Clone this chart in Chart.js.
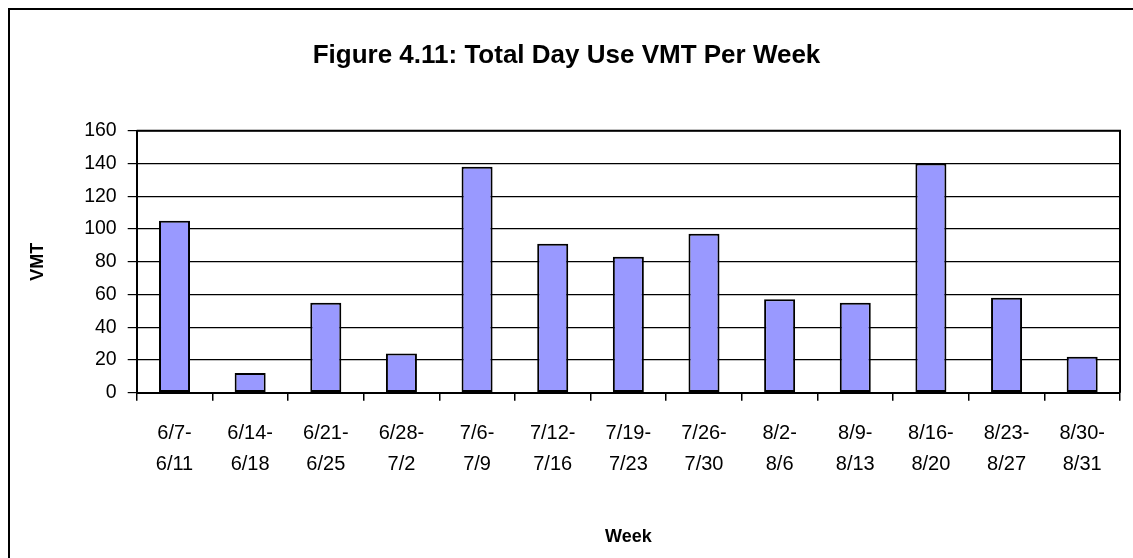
<!DOCTYPE html>
<html>
<head>
<meta charset="utf-8">
<script src="https://cdn.jsdelivr.net/npm/chart.js@4.4.0/dist/chart.umd.min.js"></script>
<style>
    html, body { margin: 0; padding: 0; background: #fff; }
    #wrap { position: relative; width: 1133px; height: 558px; overflow: hidden; }
</style>
</head>
<body>
<div id="wrap"><canvas id="vmtChart" width="1133" height="558"></canvas></div>
<script>
// Week ranges (two lines per label)
const weeks = [
    ['6/7-', '6/11'], ['6/14-', '6/18'], ['6/21-', '6/25'], ['6/28-', '7/2'],
    ['7/6-', '7/9'], ['7/12-', '7/16'], ['7/19-', '7/23'], ['7/26-', '7/30'],
    ['8/2-', '8/6'], ['8/9-', '8/13'], ['8/16-', '8/20'], ['8/23-', '8/27'],
    ['8/30-', '8/31']
];
const vmtValues = [105, 12, 55, 24, 138, 91, 83, 97, 57, 55, 140, 58, 22];
const yTicks = [0, 20, 40, 60, 80, 100, 120, 140, 160];

const FONT = 'Arial, "Liberation Sans", sans-serif';

// outer frame of the figure + box around the plot area
const framePlugin = {
    id: 'frame',
    beforeDraw(chart) {
        const ctx = chart.ctx;
        ctx.save();
        ctx.fillStyle = '#fff';
        ctx.fillRect(0, 0, chart.width, chart.height);
        ctx.strokeStyle = '#000';
        ctx.lineWidth = 2;
        ctx.strokeRect(9, 9, 1200, 700);
        ctx.restore();
    },
    afterDatasetsDraw(chart) {
        const a = chart.chartArea;
        const ctx = chart.ctx;
        ctx.save();
        ctx.strokeStyle = '#000';
        ctx.lineWidth = 2;
        ctx.beginPath();
        ctx.moveTo(a.left, a.top);
        ctx.lineTo(a.right, a.top);
        ctx.lineTo(a.right, a.bottom);
        ctx.stroke();
        ctx.restore();
    }
};

const ctx = document.getElementById('vmtChart').getContext('2d');
new Chart(ctx, {
    type: 'bar',
    data: {
        labels: weeks,
        datasets: [{
            label: 'VMT',
            data: vmtValues,
            backgroundColor: '#9999ff',
            borderColor: '#000',
            borderWidth: 2,
            borderSkipped: false,
            barPercentage: 0.41,
            categoryPercentage: 1
        }]
    },
    options: {
        responsive: false,
        animation: false,
        devicePixelRatio: 1,
        layout: { padding: { left: 13, right: 13, top: 0, bottom: 0 } },
        plugins: {
            legend: { display: false },
            tooltip: { enabled: false },
            title: {
                display: true,
                text: 'Figure 4.11: Total Day Use VMT Per Week',
                color: '#000',
                font: { family: FONT, size: 26, weight: 'bold' },
                padding: { top: 40, bottom: 59.5 }
            }
        },
        scales: {
            x: {
                afterFit(scale) { scale.height = 165.3; },
                grid: {
                    drawOnChartArea: false,
                    drawTicks: true,
                    tickLength: 8,
                    color: '#000',
                    lineWidth: 1.5
                },
                border: { color: '#000', width: 2 },
                ticks: {
                    color: '#000',
                    padding: 17,
                    maxRotation: 0,
                    autoSkip: false,
                    font: { family: FONT, size: 20, lineHeight: 1.55 }
                },
                title: {
                    display: true,
                    text: 'Week',
                    color: '#000',
                    font: { family: FONT, size: 18, weight: 'bold' },
                    padding: { top: 0, bottom: 10 }
                }
            },
            y: {
                min: 0,
                max: 160,
                afterFit(scale) { scale.width = 123.7; },
                afterBuildTicks(scale) {
                    scale.ticks = yTicks.map(v => ({ value: v }));
                },
                grid: {
                    color: '#000',
                    lineWidth: 1.2,
                    tickLength: 9
                },
                border: { color: '#000', width: 2 },
                ticks: {
                    color: '#000',
                    padding: 11,
                    font: { family: FONT, size: 19.5 }
                },
                title: {
                    display: true,
                    text: 'VMT',
                    color: '#000',
                    font: { family: FONT, size: 18, weight: 'bold' },
                    padding: { top: 14, bottom: 0 }
                }
            }
        }
    },
    plugins: [framePlugin]
});
</script>
</body>
</html>
